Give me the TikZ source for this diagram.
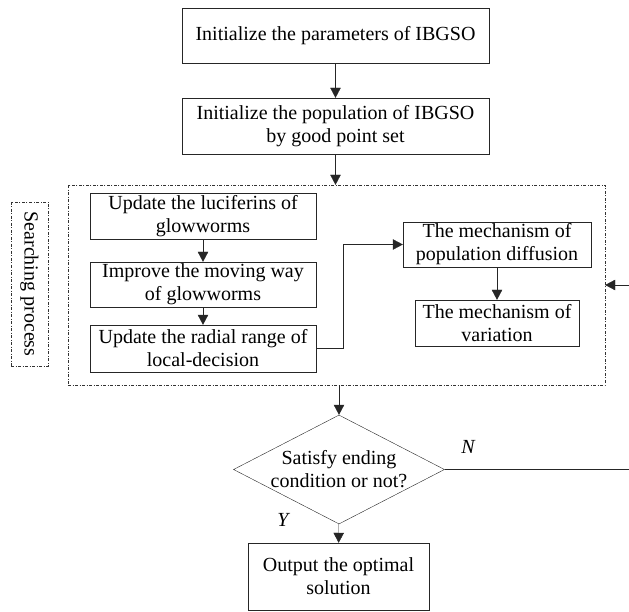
\documentclass[tikz,border=0pt]{standalone}
\usepackage{fontspec}
\setmainfont{Liberation Serif}
\usetikzlibrary{shapes.geometric,arrows.meta}

\begin{document}
\begin{tikzpicture}[x=1pt,y=-1pt,
  font=\fontsize{20}{23}\selectfont,
  bloc/.style={draw=black!85,align=center,inner sep=0pt},
  cadre/.style={draw=black!80,dash pattern=on 3pt off 1.5pt on 1pt off 1.5pt},
  fleche/.style={draw=black!85,-{Triangle[length=10pt,width=10.5pt]}}]

\clip (0,0) rectangle (629,612);

% Initialisation
\node[bloc,minimum width=307pt,minimum height=55pt] (init) at (335.5,35.5)
  {Initialize the parameters of IBGSO};
\node[bloc,minimum width=307pt,minimum height=56pt] (pop) at (335.5,126)
  {Initialize the population of IBGSO\\by good point set};

% Searching process
\node[cadre,minimum width=537pt,minimum height=200pt] (frame) at (336.5,285) {};
\node[cadre,minimum width=37pt,minimum height=164pt] (lab) at (29.5,284) {};
\node[rotate=-90] (labtxt) at (lab.center) {Searching process};

\node[bloc,minimum width=226pt,minimum height=46pt] (luci) at (203,216)
  {Update the luciferins of\\glowworms};
\node[bloc,minimum width=226pt,minimum height=45pt] (move) at (203,284.5)
  {Improve the moving way\\of glowworms};
\node[bloc,minimum width=226pt,minimum height=47pt] (radial) at (203,348.5)
  {Update the radial range of\\local-decision};
\node[bloc,minimum width=188pt,minimum height=45pt] (diff) at (497,244.5)
  {The mechanism of\\population diffusion};
\node[bloc,minimum width=164pt,minimum height=46pt] (vari) at (497,323)
  {The mechanism of\\variation};

% Decision
\node[bloc,shape=diamond,minimum width=211pt,minimum height=109pt] (dec) at (339,469.5) {};
\node[align=center,inner sep=0pt] (dectxt) at (dec.center) {Satisfy ending\\condition or not?};
\node[bloc,minimum width=181pt,minimum height=67pt] (out) at (338.5,576.5)
  {Output the optimal\\solution};

\node (no) at (468,447) {\itshape N};
\node (yes) at (283,520) {\itshape Y};

\coordinate (rim) at (640,469.5);

% Arrows
\draw[fleche] (init) -- (pop);
\draw[fleche] (pop) -- (pop.south |- frame.north);
\draw[fleche] (luci) -- (move);
\draw[fleche] (move) -- (radial);
\draw[fleche] (radial.east) -- ++(27,0) |- (diff.west);
\draw[fleche] (diff) -- (vari);
\draw[fleche] (dec.north |- frame.south) -- (dec.north);
\draw[fleche] (dec) -- (out);
\draw[fleche] (dec.east) -- (rim) |- (frame.east);

\end{tikzpicture}
\end{document}
